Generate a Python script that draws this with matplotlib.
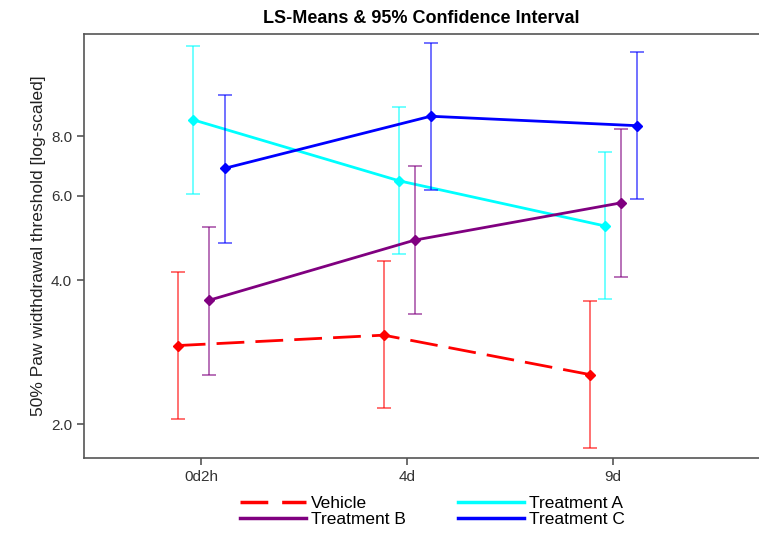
import numpy as np
import matplotlib.pyplot as plt
from matplotlib.lines import Line2D
from matplotlib.ticker import FixedLocator, FixedFormatter, NullLocator

plt.rcParams["font.family"] = ["Liberation Sans", "DejaVu Sans"]

timepoints = ["0d2h", "4d", "9d"]

vehicle = [2.92, 3.07, 2.54]
vehicle_lo = [2.05, 2.16, 1.78]
vehicle_hi = [4.16, 4.39, 3.62]

treat_a = [8.65, 6.45, 5.19]
treat_a_lo = [6.06, 4.53, 3.65]
treat_a_hi = [12.34, 9.21, 7.42]

treat_b = [3.63, 4.85, 5.80]
treat_b_lo = [2.54, 3.40, 4.06]
treat_b_hi = [5.17, 6.93, 8.28]

treat_c = [6.85, 8.80, 8.41]
treat_c_lo = [4.79, 6.17, 5.90]
treat_c_hi = [9.75, 12.54, 11.98]

fig = plt.figure(figsize=(7.59, 5.34), dpi=100)
ax = fig.add_axes([0.1107, 0.1423, 0.8893, 0.794])

x = np.arange(len(timepoints))
series = [
    ("Vehicle", vehicle, vehicle_lo, vehicle_hi, "#ff0000", -0.113, True),
    ("Treatment A", treat_a, treat_a_lo, treat_a_hi, "#00ffff", -0.038, False),
    ("Treatment B", treat_b, treat_b_lo, treat_b_hi, "#800080", 0.038, False),
    ("Treatment C", treat_c, treat_c_lo, treat_c_hi, "#0000ff", 0.115, False),
]

handles = {}
for name, m, lo, hi, col, off, dashed in series:
    m = np.array(m)
    err = [m - np.array(lo), np.array(hi) - m]
    xs = x + off
    ax.errorbar(xs, m, yerr=err, fmt="none", ecolor=col, alpha=0.6,
                elinewidth=1.3, capsize=5, capthick=1.3)
    line, = ax.plot(xs, m, color=col, lw=2, marker="D", markersize=5)
    proxy = Line2D([], [], color=col, lw=2.5)
    if dashed:
        line.set_dashes((10, 4))
        proxy.set_dashes((8, 4))
    handles[name] = proxy

ax.set_yscale("log")
ax.set_ylim(1.70, 13.07)
ax.set_xlim(-0.568, 2.709)
ax.yaxis.set_major_locator(FixedLocator([2, 4, 6, 8]))
ax.yaxis.set_major_formatter(FixedFormatter(["2.0", "4.0", "6.0", "8.0"]))
ax.yaxis.set_minor_locator(NullLocator())
ax.set_xticks(x)
ax.set_xticklabels(timepoints)

for s in ["left", "top", "bottom"]:
    ax.spines[s].set_color("#555555")
    ax.spines[s].set_linewidth(1.2)
ax.spines["right"].set_visible(False)
ax.tick_params(colors="#555555", labelcolor="#333333", labelsize=11, length=5, width=1.2)

ax.set_ylabel("50% Paw widthdrawal threshold [log-scaled]", fontsize=12.5, color="#222222")
ax.set_title("LS-Means & 95% Confidence Interval", fontsize=13, fontweight="bold", pad=8)

order = ["Vehicle", "Treatment B", "Treatment A", "Treatment C"]
fig.legend([handles[n] for n in order], order, loc="center", ncol=2,
           bbox_to_anchor=(0.57, 0.042), frameon=False, fontsize=12.5,
           handlelength=3.8, columnspacing=3, labelspacing=0.02, handletextpad=0.3)

fig.savefig("out.png", dpi=100)
